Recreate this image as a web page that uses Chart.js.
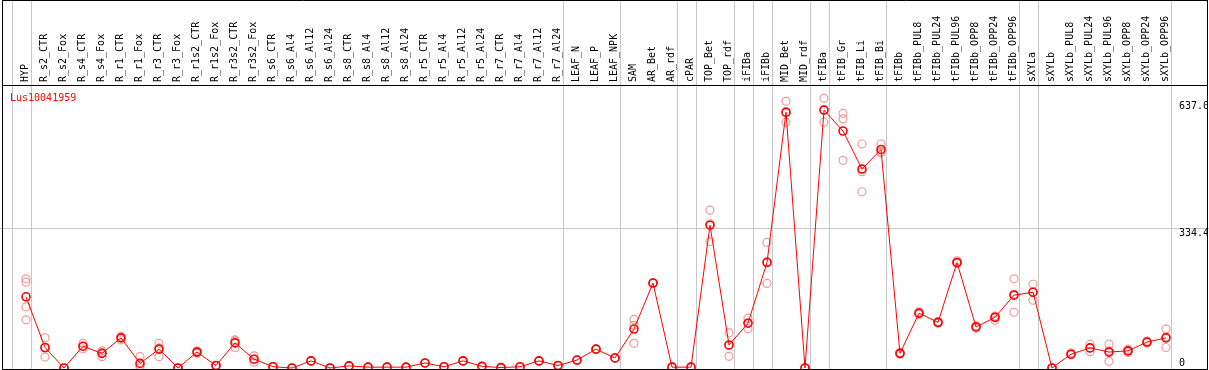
<!DOCTYPE html>
<html>
<head>
<meta charset="utf-8">
<script src="https://cdn.jsdelivr.net/npm/chart.js@4"></script>
<style>
  body { margin: 0; background: #fff; }
  canvas { display: block; }
</style>
</head>
<body>
<canvas id="chart" width="1209" height="370"></canvas>
<script>
// Sample names along the top
const categories = [
  'HYP', 'R_s2_CTR', 'R_s2_Fox', 'R_s4_CTR', 'R_s4_Fox', 'R_r1_CTR', 'R_r1_Fox',
  'R_r3_CTR', 'R_r3_Fox', 'R_r1s2_CTR', 'R_r1s2_Fox', 'R_r3s2_CTR', 'R_r3s2_Fox',
  'R_s6_CTR', 'R_s6_Al4', 'R_s6_Al12', 'R_s6_Al24', 'R_s8_CTR', 'R_s8_Al4',
  'R_s8_Al12', 'R_s8_Al24', 'R_r5_CTR', 'R_r5_Al4', 'R_r5_Al12', 'R_r5_Al24',
  'R_r7_CTR', 'R_r7_Al4', 'R_r7_Al12', 'R_r7_Al24', 'LEAF_N', 'LEAF_P', 'LEAF_NPK',
  'SAM', 'AR_Bet', 'AR_rdf', 'cPAR', 'TOP_Bet', 'TOP_rdf', 'iFIBa', 'iFIBb',
  'MID_Bet', 'MID_rdf', 'tFIBa', 'tFIB_Gr', 'tFIB_Li', 'tFIB_Bi', 'tFIBb',
  'tFIBb_PUL8', 'tFIBb_PUL24', 'tFIBb_PUL96', 'tFIBb_OPP8', 'tFIBb_OPP24', 'tFIBb_OPP96',
  'sXYLa', 'sXYLb', 'sXYLb_PUL8', 'sXYLb_PUL24', 'sXYLb_PUL96', 'sXYLb_OPP8',
  'sXYLb_OPP24', 'sXYLb_OPP96'
];

// mean expression per sample
const means = [
  170, 49, 0, 52, 35, 72, 11, 45, 0, 38, 6, 60, 21,
  3, 0, 17, 0, 5, 2, 2, 2, 12, 3, 17, 4,
  1, 3, 17, 6, 19, 45, 24,
  93, 203, 2, 2, 341, 55, 107, 252,
  611, 0, 616, 566, 475, 522, 35,
  131, 109, 252, 98, 121, 174,
  181, 0, 33, 48, 38, 41, 62, 72
];

// replicates (null = none)
const rep1 = [
  213, 72, 0, 59, 41, 76, 27, 59, 0, 41, 6, 67, 29,
  3, 0, 17, 0, 5, 2, 2, 2, 12, 3, 17, 4,
  1, 3, 17, 6, 19, 45, 24,
  116, 203, 2, 2, 377, 84, 119, 300,
  637, 0, 644, 608, 535, 535, 37,
  134, 111, 256, 101, 124, 213,
  200, 0, 36, 57, 57, 45, 64, 93
];
const rep2 = [
  146, 26, 0, 46, 27, 67, 0, 27, 0, 35, 6, 49, 14,
  3, 0, 17, 0, 5, 2, 2, 2, 12, 3, 17, 4,
  1, 3, 17, 6, 19, 45, 24,
  102, 203, 2, 2, 302, 28, 94, 202,
  587, 0, 587, 595, 421, 514, 33,
  128, 107, 250, 95, 114, 133,
  162, 0, 31, 39, 16, 37, 60, 49
];
const rep3 = [
  115, 48, 0, 52, 36, 72, 6, 48, 0, 38, 6, 64, 21,
  3, 0, 17, 0, 5, 2, 2, 2, 12, 3, 17, 4,
  1, 3, 17, 6, 19, 45, 24,
  59, 203, 2, 2, 344, 54, 108, 254,
  609, 0, 617, 496, 469, 517, 35,
  131, 109, 252, 98, 121, 176,
  181, 0, 33, 48, 41, 41, 62, 74
];
const rep4 = [205];

// group separators sit just after these sample indexes
const groupEnds = [-1, 0, 28, 31, 34, 35, 37, 38, 39, 41, 42, 45, 52, 53, 60];

// labels on the right edge
const yLabels = [637.0, 334.4, 0];

const FONT = '10px "DejaVu Sans Mono", monospace';
const X_MIN = -26 / 19;
const X_MAX = (1209 - 26) / 19;
const LABEL_SHIFT = 11 / 19; // rotated tick labels are drawn left of their tick

function toPoints(arr) {
  return arr.map((v, i) => (v === null || v === undefined) ? null : { x: i, y: v }).filter(p => p);
}

const replicates = [].concat(toPoints(rep1), toPoints(rep2), toPoints(rep3), toPoints(rep4));

const framePlugin = {
  id: 'frame',
  beforeDatasetsDraw(chart) {
    const ctx = chart.ctx;
    const x = chart.scales.x;
    const y = chart.scales.y;
    const area = chart.chartArea;
    ctx.save();
    ctx.strokeStyle = '#c8c8c8';
    ctx.lineWidth = 1;
    // vertical group lines, full height
    groupEnds.forEach(i => {
      const px = Math.round(x.getPixelForValue(i + 0.24)) + 0.5;
      ctx.beginPath();
      ctx.moveTo(px, 0);
      ctx.lineTo(px, chart.height);
      ctx.stroke();
    });
    // horizontal mid line
    const py = Math.round(y.getPixelForValue(334.4)) + 0.5;
    ctx.beginPath();
    ctx.moveTo(area.left, py);
    ctx.lineTo(area.right, py);
    ctx.stroke();
    ctx.restore();
  },
  afterDraw(chart) {
    const ctx = chart.ctx;
    const y = chart.scales.y;
    ctx.save();
    // frame
    ctx.strokeStyle = '#000';
    ctx.lineWidth = 1;
    ctx.beginPath();
    ctx.moveTo(2.5, 0.5); ctx.lineTo(1207.5, 0.5);
    ctx.moveTo(2.5, 85.5); ctx.lineTo(1207.5, 85.5);
    ctx.moveTo(2.5, 369.5); ctx.lineTo(1207.5, 369.5);
    ctx.moveTo(2.5, 0); ctx.lineTo(2.5, 370);
    ctx.moveTo(1207.5, 0); ctx.lineTo(1207.5, 370);
    ctx.stroke();
    // right value labels
    ctx.beginPath();
    ctx.rect(0, 0, 1207, 370);
    ctx.clip();
    ctx.font = FONT;
    ctx.fillStyle = '#000';
    ctx.textAlign = 'left';
    yLabels.forEach(v => {
      const py = y.getPixelForValue(v);
      if (v === 0) {
        ctx.textBaseline = 'alphabetic';
        ctx.fillText(String(v), 1179, py - 2);
      } else {
        ctx.textBaseline = 'top';
        ctx.fillText(v.toFixed(1), 1179, py);
      }
    });
    // gene title
    ctx.fillStyle = '#ff0000';
    ctx.textBaseline = 'alphabetic';
    ctx.fillText('Lus10041959', 10, 101);
    ctx.restore();
  }
};

new Chart(document.getElementById('chart'), {
  type: 'scatter',
  data: {
    datasets: [
      {
        label: 'mean',
        data: toPoints(means),
        showLine: true,
        borderColor: '#ff0000',
        borderWidth: 1,
        pointRadius: 4,
        pointBorderWidth: 1.6,
        pointBackgroundColor: 'rgba(0,0,0,0)',
        pointBorderColor: '#ff0000',
        order: 1
      },
      {
        label: 'replicates',
        data: replicates,
        showLine: false,
        pointRadius: 4,
        pointBorderWidth: 1.2,
        pointBackgroundColor: 'rgba(0,0,0,0)',
        pointBorderColor: 'rgba(235,120,120,0.75)',
        order: 2
      }
    ]
  },
  plugins: [framePlugin],
  options: {
    responsive: false,
    animation: false,
    events: [],
    layout: { padding: 0, autoPadding: false },
    plugins: { legend: { display: false }, tooltip: { enabled: false } },
    scales: {
      x: {
        type: 'linear',
        display: false,
        min: X_MIN,
        max: X_MAX
      },
      x2: {
        type: 'linear',
        position: 'top',
        min: X_MIN - LABEL_SHIFT,
        max: X_MAX - LABEL_SHIFT,
        afterBuildTicks: (scale) => {
          scale.ticks = categories.map((c, i) => ({ value: i }));
        },
        afterFit: (scale) => {
          scale.height = 85;
          scale.paddingLeft = 0;
          scale.paddingRight = 0;
        },
        grid: { display: false, drawTicks: false },
        border: { display: false },
        ticks: {
          autoSkip: false,
          minRotation: 90,
          maxRotation: 90,
          padding: 3,
          color: '#000',
          font: { family: '"DejaVu Sans Mono", monospace', size: 10 },
          callback: (v) => categories[v]
        }
      },
      y: {
        type: 'linear',
        display: false,
        min: -2 / 0.4187,
        max: (368 - 85) / 0.4187
      }
    }
  }
});
</script>
</body>
</html>
